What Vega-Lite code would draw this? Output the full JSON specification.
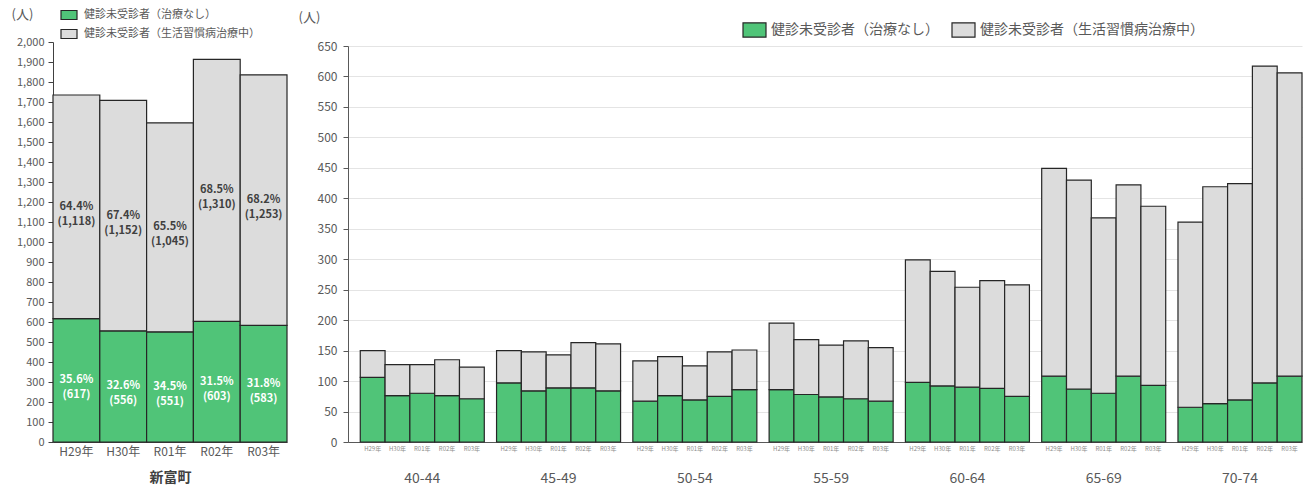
{
  "$schema": "https://vega.github.io/schema/vega-lite/v6.json",
  "padding": {"left": 11, "top": 6, "right": 6, "bottom": 3},
  "config": {
    "view": {"stroke": null},
    "font": "Noto Sans CJK JP",
    "axis": {"labelFont": "Noto Sans CJK JP", "titleFont": "Noto Sans CJK JP"},
    "legend": {"labelFont": "Noto Sans CJK JP"}
  },
  "datasets": {
    "town": [
      {"year": "H29年", "cat": "健診未受診者（治療なし）", "value": 617, "label": "35.6%\n(617)"},
      {"year": "H29年", "cat": "健診未受診者（生活習慣病治療中）", "value": 1118, "label": "64.4%\n(1,118)"},
      {"year": "H30年", "cat": "健診未受診者（治療なし）", "value": 556, "label": "32.6%\n(556)"},
      {"year": "H30年", "cat": "健診未受診者（生活習慣病治療中）", "value": 1152, "label": "67.4%\n(1,152)"},
      {"year": "R01年", "cat": "健診未受診者（治療なし）", "value": 551, "label": "34.5%\n(551)"},
      {"year": "R01年", "cat": "健診未受診者（生活習慣病治療中）", "value": 1045, "label": "65.5%\n(1,045)"},
      {"year": "R02年", "cat": "健診未受診者（治療なし）", "value": 603, "label": "31.5%\n(603)"},
      {"year": "R02年", "cat": "健診未受診者（生活習慣病治療中）", "value": 1310, "label": "68.5%\n(1,310)"},
      {"year": "R03年", "cat": "健診未受診者（治療なし）", "value": 583, "label": "31.8%\n(583)"},
      {"year": "R03年", "cat": "健診未受診者（生活習慣病治療中）", "value": 1253, "label": "68.2%\n(1,253)"}
    ],
    "ages": [
      {"age": "40-44", "year": "H29年", "cat": "健診未受診者（治療なし）", "value": 106},
      {"age": "40-44", "year": "H29年", "cat": "健診未受診者（生活習慣病治療中）", "value": 44},
      {"age": "40-44", "year": "H30年", "cat": "健診未受診者（治療なし）", "value": 76},
      {"age": "40-44", "year": "H30年", "cat": "健診未受診者（生活習慣病治療中）", "value": 51},
      {"age": "40-44", "year": "R01年", "cat": "健診未受診者（治療なし）", "value": 80},
      {"age": "40-44", "year": "R01年", "cat": "健診未受診者（生活習慣病治療中）", "value": 47},
      {"age": "40-44", "year": "R02年", "cat": "健診未受診者（治療なし）", "value": 76},
      {"age": "40-44", "year": "R02年", "cat": "健診未受診者（生活習慣病治療中）", "value": 59},
      {"age": "40-44", "year": "R03年", "cat": "健診未受診者（治療なし）", "value": 71},
      {"age": "40-44", "year": "R03年", "cat": "健診未受診者（生活習慣病治療中）", "value": 52},
      {"age": "45-49", "year": "H29年", "cat": "健診未受診者（治療なし）", "value": 97},
      {"age": "45-49", "year": "H29年", "cat": "健診未受診者（生活習慣病治療中）", "value": 53},
      {"age": "45-49", "year": "H30年", "cat": "健診未受診者（治療なし）", "value": 84},
      {"age": "45-49", "year": "H30年", "cat": "健診未受診者（生活習慣病治療中）", "value": 64},
      {"age": "45-49", "year": "R01年", "cat": "健診未受診者（治療なし）", "value": 89},
      {"age": "45-49", "year": "R01年", "cat": "健診未受診者（生活習慣病治療中）", "value": 54},
      {"age": "45-49", "year": "R02年", "cat": "健診未受診者（治療なし）", "value": 89},
      {"age": "45-49", "year": "R02年", "cat": "健診未受診者（生活習慣病治療中）", "value": 74},
      {"age": "45-49", "year": "R03年", "cat": "健診未受診者（治療なし）", "value": 84},
      {"age": "45-49", "year": "R03年", "cat": "健診未受診者（生活習慣病治療中）", "value": 77},
      {"age": "50-54", "year": "H29年", "cat": "健診未受診者（治療なし）", "value": 67},
      {"age": "50-54", "year": "H29年", "cat": "健診未受診者（生活習慣病治療中）", "value": 66},
      {"age": "50-54", "year": "H30年", "cat": "健診未受診者（治療なし）", "value": 76},
      {"age": "50-54", "year": "H30年", "cat": "健診未受診者（生活習慣病治療中）", "value": 64},
      {"age": "50-54", "year": "R01年", "cat": "健診未受診者（治療なし）", "value": 69},
      {"age": "50-54", "year": "R01年", "cat": "健診未受診者（生活習慣病治療中）", "value": 56},
      {"age": "50-54", "year": "R02年", "cat": "健診未受診者（治療なし）", "value": 75},
      {"age": "50-54", "year": "R02年", "cat": "健診未受診者（生活習慣病治療中）", "value": 73},
      {"age": "50-54", "year": "R03年", "cat": "健診未受診者（治療なし）", "value": 86},
      {"age": "50-54", "year": "R03年", "cat": "健診未受診者（生活習慣病治療中）", "value": 65},
      {"age": "55-59", "year": "H29年", "cat": "健診未受診者（治療なし）", "value": 86},
      {"age": "55-59", "year": "H29年", "cat": "健診未受診者（生活習慣病治療中）", "value": 109},
      {"age": "55-59", "year": "H30年", "cat": "健診未受診者（治療なし）", "value": 78},
      {"age": "55-59", "year": "H30年", "cat": "健診未受診者（生活習慣病治療中）", "value": 90},
      {"age": "55-59", "year": "R01年", "cat": "健診未受診者（治療なし）", "value": 74},
      {"age": "55-59", "year": "R01年", "cat": "健診未受診者（生活習慣病治療中）", "value": 85},
      {"age": "55-59", "year": "R02年", "cat": "健診未受診者（治療なし）", "value": 71},
      {"age": "55-59", "year": "R02年", "cat": "健診未受診者（生活習慣病治療中）", "value": 95},
      {"age": "55-59", "year": "R03年", "cat": "健診未受診者（治療なし）", "value": 67},
      {"age": "55-59", "year": "R03年", "cat": "健診未受診者（生活習慣病治療中）", "value": 88},
      {"age": "60-64", "year": "H29年", "cat": "健診未受診者（治療なし）", "value": 98},
      {"age": "60-64", "year": "H29年", "cat": "健診未受診者（生活習慣病治療中）", "value": 201},
      {"age": "60-64", "year": "H30年", "cat": "健診未受診者（治療なし）", "value": 92},
      {"age": "60-64", "year": "H30年", "cat": "健診未受診者（生活習慣病治療中）", "value": 188},
      {"age": "60-64", "year": "R01年", "cat": "健診未受診者（治療なし）", "value": 90},
      {"age": "60-64", "year": "R01年", "cat": "健診未受診者（生活習慣病治療中）", "value": 164},
      {"age": "60-64", "year": "R02年", "cat": "健診未受診者（治療なし）", "value": 88},
      {"age": "60-64", "year": "R02年", "cat": "健診未受診者（生活習慣病治療中）", "value": 177},
      {"age": "60-64", "year": "R03年", "cat": "健診未受診者（治療なし）", "value": 75},
      {"age": "60-64", "year": "R03年", "cat": "健診未受診者（生活習慣病治療中）", "value": 183},
      {"age": "65-69", "year": "H29年", "cat": "健診未受診者（治療なし）", "value": 108},
      {"age": "65-69", "year": "H29年", "cat": "健診未受診者（生活習慣病治療中）", "value": 341},
      {"age": "65-69", "year": "H30年", "cat": "健診未受診者（治療なし）", "value": 87},
      {"age": "65-69", "year": "H30年", "cat": "健診未受診者（生活習慣病治療中）", "value": 343},
      {"age": "65-69", "year": "R01年", "cat": "健診未受診者（治療なし）", "value": 80},
      {"age": "65-69", "year": "R01年", "cat": "健診未受診者（生活習慣病治療中）", "value": 288},
      {"age": "65-69", "year": "R02年", "cat": "健診未受診者（治療なし）", "value": 108},
      {"age": "65-69", "year": "R02年", "cat": "健診未受診者（生活習慣病治療中）", "value": 314},
      {"age": "65-69", "year": "R03年", "cat": "健診未受診者（治療なし）", "value": 93},
      {"age": "65-69", "year": "R03年", "cat": "健診未受診者（生活習慣病治療中）", "value": 294},
      {"age": "70-74", "year": "H29年", "cat": "健診未受診者（治療なし）", "value": 57},
      {"age": "70-74", "year": "H29年", "cat": "健診未受診者（生活習慣病治療中）", "value": 304},
      {"age": "70-74", "year": "H30年", "cat": "健診未受診者（治療なし）", "value": 63},
      {"age": "70-74", "year": "H30年", "cat": "健診未受診者（生活習慣病治療中）", "value": 356},
      {"age": "70-74", "year": "R01年", "cat": "健診未受診者（治療なし）", "value": 69},
      {"age": "70-74", "year": "R01年", "cat": "健診未受診者（生活習慣病治療中）", "value": 355},
      {"age": "70-74", "year": "R02年", "cat": "健診未受診者（治療なし）", "value": 97},
      {"age": "70-74", "year": "R02年", "cat": "健診未受診者（生活習慣病治療中）", "value": 520},
      {"age": "70-74", "year": "R03年", "cat": "健診未受診者（治療なし）", "value": 108},
      {"age": "70-74", "year": "R03年", "cat": "健診未受診者（生活習慣病治療中）", "value": 498}
    ]
  },
  "spacing": 61,
  "bounds": "flush",
  "resolve": {
    "scale": {"color": "independent", "x": "independent", "y": "independent"},
    "legend": {"color": "independent"}
  },
  "hconcat": [
    {
      "width": 234,
      "height": 400,
      "data": {"name": "town"},
      "encoding": {
        "x": {
          "field": "year", "type": "nominal", "sort": null,
          "scale": {"paddingInner": 0, "paddingOuter": 0},
          "axis": {
            "title": "新富町", "labelAngle": 0, "ticks": false,
            "labelFontSize": 12, "labelColor": "#595959", "labelPadding": 4,
            "domainColor": "#404040", "domainWidth": 1.2,
            "titleFontSize": 14, "titleFontWeight": "bold", "titleColor": "#404040", "titlePadding": 13
          }
        },
        "y": {
          "field": "value", "type": "quantitative", "stack": "zero",
          "scale": {"domain": [0, 2000], "nice": false},
          "axis": {
            "values": [0, 100, 200, 300, 400, 500, 600, 700, 800, 900, 1000, 1100, 1200, 1300, 1400, 1500, 1600, 1700, 1800, 1900, 2000],
            "format": ",d", "grid": false, "labelOverlap": false,
            "labelFontSize": 11, "labelColor": "#595959", "labelPadding": 4,
            "domainColor": "#404040", "tickColor": "#404040", "tickSize": 5,
            "title": "(人)", "titleAngle": 0, "titleAlign": "center", "titleBaseline": "middle",
            "titleX": -31, "titleY": -28, "titleFontSize": 13, "titleFontWeight": "normal", "titleColor": "#595959"
          }
        },
        "order": {"field": "cat", "sort": "ascending"}
      },
      "layer": [
        {
          "mark": {"type": "bar", "stroke": "#262626", "strokeWidth": 1.2},
          "encoding": {
            "color": {
              "field": "cat", "type": "nominal",
              "scale": {"domain": ["健診未受診者（治療なし）", "健診未受診者（生活習慣病治療中）"], "range": ["#50c478", "#dcdcdc"]},
              "legend": {
                "title": null, "orient": "none", "legendX": 7, "legendY": -36, "direction": "vertical",
                "symbolType": "M-1,-0.56H1V0.56H-1Z", "symbolSize": 256,
                "symbolStrokeColor": "#262626", "symbolStrokeWidth": 1.2, "symbolOpacity": 1,
                "labelFontSize": 11, "labelColor": "#595959", "labelOffset": 6, "labelLimit": 300, "rowPadding": 3
              }
            }
          }
        },
        {
          "mark": {"type": "text", "lineBreak": "\n", "fontSize": 11, "fontWeight": "bold", "lineHeight": 15, "baseline": "middle"},
          "encoding": {
            "y": {
              "field": "value", "type": "quantitative", "stack": "zero", "bandPosition": 0.5,
              "scale": {"domain": [0, 2000], "nice": false},
              "axis": {
                "values": [0, 100, 200, 300, 400, 500, 600, 700, 800, 900, 1000, 1100, 1200, 1300, 1400, 1500, 1600, 1700, 1800, 1900, 2000],
                "format": ",d", "grid": false, "labelOverlap": false,
                "labelFontSize": 11, "labelColor": "#595959", "labelPadding": 4,
                "domainColor": "#404040", "tickColor": "#404040", "tickSize": 5,
                "title": "(人)", "titleAngle": 0, "titleAlign": "center", "titleBaseline": "middle",
                "titleX": -31, "titleY": -28, "titleFontSize": 13, "titleFontWeight": "normal", "titleColor": "#595959"
              }
            },
            "detail": {"field": "cat"},
            "text": {"field": "label"},
            "color": {"condition": {"test": "datum.cat === '健診未受診者（治療なし）'", "value": "#ffffff"}, "value": "#404040"}
          }
        }
      ]
    },
    {
      "width": 954,
      "height": 400,
      "data": {"name": "ages"},
      "encoding": {
        "x": {
          "field": "age", "type": "nominal", "sort": null,
          "scale": {"paddingInner": 0.09, "paddingOuter": 0.045, "align": 1},
          "axis": {
            "title": null, "labelAngle": 0, "ticks": false,
            "labelFontSize": 14, "labelColor": "#595959", "labelPadding": 29,
            "domainColor": "#595959", "domainWidth": 1.2
          }
        },
        "xOffset": {"field": "year", "type": "nominal", "sort": null, "scale": {"paddingInner": 0, "paddingOuter": 0}}
      },
      "layer": [
        {
          "mark": {"type": "bar", "stroke": "#262626", "strokeWidth": 1.2},
          "encoding": {
            "y": {
              "field": "value", "type": "quantitative", "stack": "zero",
              "scale": {"domain": [0, 650], "nice": false, "range": [400, 4]},
              "axis": {
                "values": [0, 50, 100, 150, 200, 250, 300, 350, 400, 450, 500, 550, 600, 650],
                "grid": true, "gridColor": "#e4e4e4", "gridWidth": 1, "labelOverlap": false,
                "labelFontSize": 12, "labelColor": "#595959", "labelPadding": 6,
                "domainColor": "#595959", "tickColor": "#595959", "tickSize": 5,
                "title": "(人)", "titleAngle": 0, "titleAlign": "center", "titleBaseline": "middle",
                "titleX": -39, "titleY": -25, "titleFontSize": 13, "titleFontWeight": "normal", "titleColor": "#595959"
              }
            },
            "order": {"field": "cat", "sort": "ascending"},
            "color": {
              "field": "cat", "type": "nominal",
              "scale": {"domain": ["健診未受診者（治療なし）", "健診未受診者（生活習慣病治療中）"], "range": ["#50c478", "#dcdcdc"]},
              "legend": {
                "title": null, "orient": "none", "legendX": 394, "legendY": -25, "direction": "horizontal",
                "symbolType": "M-1,-0.62H1V0.62H-1Z", "symbolSize": 529,
                "symbolStrokeColor": "#262626", "symbolStrokeWidth": 1.2, "symbolOpacity": 1,
                "labelFontSize": 14, "labelColor": "#595959", "labelOffset": 4, "labelLimit": 400, "columnPadding": 10
              }
            }
          }
        },
        {
          "transform": [{"filter": "datum.cat === '健診未受診者（治療なし）'"}],
          "mark": {"type": "text", "fontSize": 6, "color": "#8c8c8c", "baseline": "middle", "dy": 7},
          "encoding": {
            "y": {
              "datum": 0, "type": "quantitative",
              "scale": {"domain": [0, 650], "nice": false, "range": [400, 4]},
              "axis": {
                "values": [0, 50, 100, 150, 200, 250, 300, 350, 400, 450, 500, 550, 600, 650],
                "grid": true, "gridColor": "#e4e4e4", "gridWidth": 1, "labelOverlap": false,
                "labelFontSize": 12, "labelColor": "#595959", "labelPadding": 6,
                "domainColor": "#595959", "tickColor": "#595959", "tickSize": 5,
                "title": "(人)", "titleAngle": 0, "titleAlign": "center", "titleBaseline": "middle",
                "titleX": -39, "titleY": -25, "titleFontSize": 13, "titleFontWeight": "normal", "titleColor": "#595959"
              }
            },
            "text": {"field": "year"}
          }
        }
      ]
    }
  ]
}
